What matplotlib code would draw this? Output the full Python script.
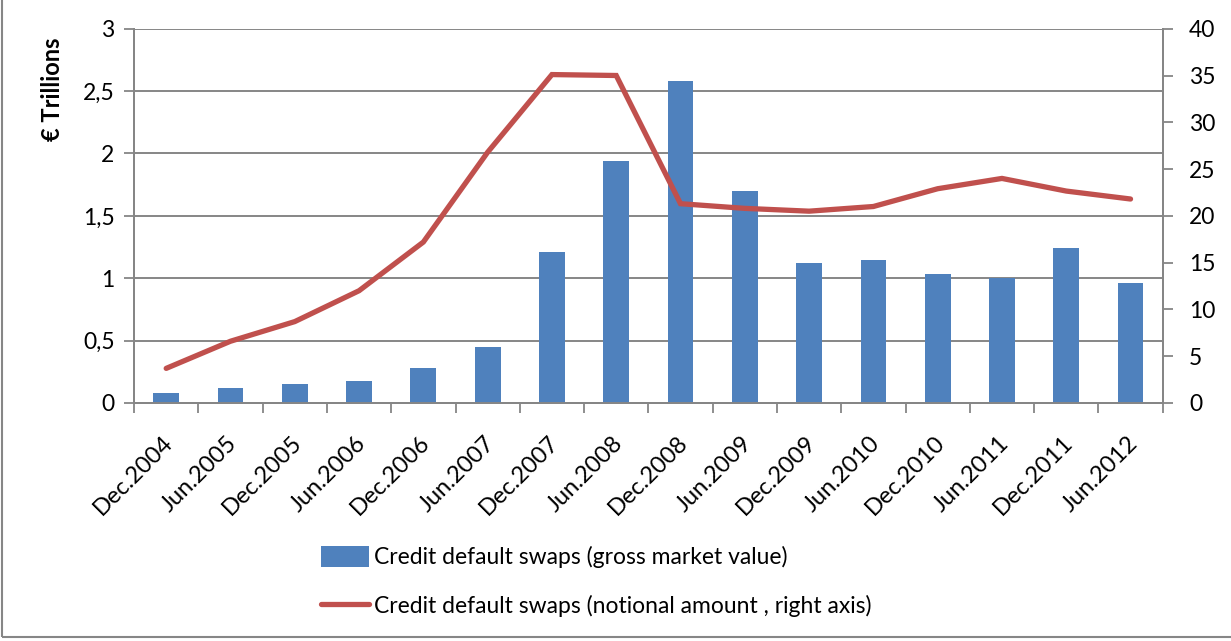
import numpy as np
import matplotlib.pyplot as plt
import matplotlib.transforms as mtransforms
from matplotlib.patches import Rectangle

periodos = ['Dec.2004', 'Jun.2005', 'Dec.2005', 'Jun.2006', 'Dec.2006', 'Jun.2007',
            'Dec.2007', 'Jun.2008', 'Dec.2008', 'Jun.2009', 'Dec.2009', 'Jun.2010',
            'Dec.2010', 'Jun.2011', 'Dec.2011', 'Jun.2012']

valor_bruto = [0.078, 0.117, 0.15, 0.174, 0.28, 0.45, 1.21, 1.94, 2.58, 1.70,
               1.125, 1.15, 1.03, 0.998, 1.245, 0.958]

valor_nocional = [3.7, 6.6, 8.7, 12.0, 17.2, 26.8, 35.1, 35.0, 21.3, 20.8,
                  20.5, 21.0, 22.9, 24.0, 22.65, 21.8]

plt.rcParams['font.family'] = ['Lato', 'DejaVu Sans']
cinza = '#868686'

fig = plt.figure(figsize=(12.31, 6.41), dpi=100)
ax = fig.add_axes([0.1089, 0.3713, 0.8356, 0.5839])
ax2 = ax.twinx()

x = np.arange(len(periodos))
barras = ax.bar(x, valor_bruto, width=0.4, color='#4F81BD', zorder=3,
                label='Credit default swaps (gross market value)')
linha, = ax2.plot(x, valor_nocional, color='#C0504D', linewidth=3.8,
                  solid_capstyle='round', solid_joinstyle='miter', zorder=4,
                  label='Credit default swaps (notional amount , right axis)')

ax.set_xlim(-0.5, len(periodos) - 0.5)
ax.set_ylim(0, 3)
ax2.set_ylim(0, 40)
ax.set_yticks(np.arange(0, 3.01, 0.5))
ax.set_yticklabels(['0', '0,5', '1', '1,5', '2', '2,5', '3'])
ax2.set_yticks(range(0, 41, 5))

ax.yaxis.grid(True, color=cinza, linewidth=1.4, zorder=0)
ax.set_axisbelow(True)

# ticks do eixo x nas fronteiras entre as categorias
ax.set_xticks(np.arange(-0.5, len(periodos), 1.0))
ax.set_xticklabels([])
ax.set_xticks(x, minor=True)
ax.set_xticklabels(periodos, minor=True, rotation=45, ha='right',
                   rotation_mode='anchor', fontsize=17)
ax.tick_params(axis='x', which='minor', length=0, pad=21)
ax.tick_params(axis='x', which='major', length=7, width=1.3, color=cinza)
ax.tick_params(axis='y', length=7, width=1.3, color=cinza, labelsize=16.5, pad=7)
ax2.tick_params(axis='y', length=7, width=1.3, color=cinza, labelsize=16.5, pad=12)

desloca = mtransforms.ScaledTranslation(-4 / 100, 0, fig.dpi_scale_trans)
for rotulo in ax.get_xticklabels(minor=True):
    rotulo.set_transform(rotulo.get_transform() + desloca)

for a in (ax, ax2):
    a.spines['top'].set_visible(False)
    for lado in ('left', 'right', 'bottom'):
        a.spines[lado].set_color(cinza)
        a.spines[lado].set_linewidth(1.4)

fig.text(0.0426, 0.86, '€ Trillions', rotation=90, ha='center', va='center',
         fontsize=17, fontweight='bold')

fig.legend(handles=[barras, linha], loc='upper left',
           bbox_to_anchor=(0.261, 0.148), bbox_transform=fig.transFigure,
           frameon=False, fontsize=16.5, labelspacing=1.15,
           handlelength=2.1, handletextpad=0.2, handleheight=1.0,
           borderaxespad=0, borderpad=0)

fig.patches.append(Rectangle((0.0016, 0.006), 2, 2, transform=fig.transFigure,
                             fill=False, edgecolor=cinza, linewidth=1.5))

plt.savefig('out.png', dpi=100)
